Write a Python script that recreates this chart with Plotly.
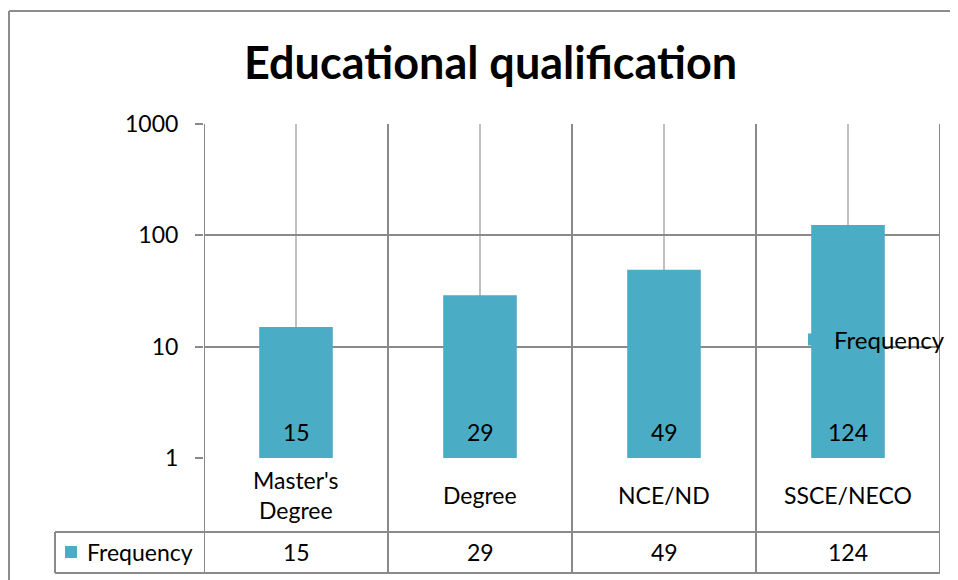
import plotly.graph_objects as go

categories = ["Master's Degree", "Degree", "NCE/ND", "SSCE/NECO"]
category_labels = ["Master's<br>Degree", "Degree", "NCE/ND", "SSCE/NECO"]
frequency = [15, 29, 49, 124]
series_name = "Frequency"
title = "Educational qualification"
y_ticks = [1, 10, 100, 1000]

BAR = "#4BACC6"
GRID = "#8a8a8a"
LIGHT = "#c0c0c0"
FONT = "Lato"
FS = 23

OFF = 8  # page body margin
W, H = 958, 580
L, T = 204 - OFF, 124 - OFF
pw, ph = 736, 334
R, B = W - L - pw, H - T - ph


def px(x):
    return (x - OFF - L) / pw


def py(y):
    return (T + ph - (y - OFF)) / ph


fig = go.Figure()
fig.add_trace(go.Bar(
    x=categories, y=frequency, name=series_name,
    marker=dict(color=BAR, line=dict(width=0)), width=0.4,
))

shapes = []
for i in range(len(categories) + 1):
    xv = i - 0.5
    shapes.append(dict(type="line", xref="x", yref="paper", x0=xv, x1=xv,
                       y0=py(573), y1=1, line=dict(color=GRID, width=2), layer="above"))
for yy in (532, 573):
    shapes.append(dict(type="line", xref="paper", yref="paper", x0=px(55), x1=1,
                       y0=py(yy), y1=py(yy), line=dict(color=GRID, width=2)))
shapes.append(dict(type="line", xref="paper", yref="paper", x0=px(55), x1=px(55),
                   y0=py(532), y1=py(573), line=dict(color=GRID, width=2)))
shapes.append(dict(type="rect", xref="paper", yref="paper", x0=px(65), x1=px(77),
                   y0=py(558), y1=py(546), fillcolor=BAR, line=dict(width=0)))
shapes.append(dict(type="line", xref="paper", yref="paper", x0=px(9), x1=px(970),
                   y0=py(11), y1=py(11), line=dict(color="#8c8c8c", width=2)))
shapes.append(dict(type="line", xref="paper", yref="paper", x0=px(9), x1=px(9),
                   y0=py(11), y1=py(590), line=dict(color="#8c8c8c", width=2)))


def ann(x, xref, y, text, size=FS, xanchor="center"):
    return dict(x=x, xref=xref, y=y, yref="paper", text=text, showarrow=False,
                xanchor=xanchor, yanchor="middle",
                font=dict(size=size, color="black", family=FONT))


annotations = []
for cat, lab, v in zip(categories, category_labels, frequency):
    annotations.append(ann(cat, "x", py(432), str(v)))
    annotations.append(ann(cat, "x", py(495), lab))
    annotations.append(ann(cat, "x", py(552), str(v)))
annotations.append(ann(px(85), "paper", py(552), series_name, xanchor="left"))
annotations.append(ann(px(490), "paper", py(62), "<b>" + title + "</b>", size=45))

fig.update_layout(
    width=W, height=H,
    margin=dict(l=L, r=R, t=T, b=B),
    paper_bgcolor="white", plot_bgcolor="white",
    font=dict(family=FONT, size=FS, color="black"),
    showlegend=True,
    legend=dict(x=px(794), y=py(340), xanchor="left", yanchor="middle",
                bgcolor="rgba(0,0,0,0)", font=dict(size=24, family=FONT),
                itemwidth=30),
    xaxis=dict(showgrid=True, gridcolor=LIGHT, gridwidth=1.5, showticklabels=False,
               ticks="", showline=False, zeroline=False, range=[-0.5, 3.5]),
    yaxis=dict(type="log", range=[0, 3], tickvals=y_ticks, ticktext=[str(t) for t in y_ticks],
               showgrid=True, gridcolor=GRID, gridwidth=2, ticks="outside", ticklen=8,
               tickcolor=GRID, tickwidth=2, showline=False, zeroline=False,
               tickfont=dict(size=FS, family=FONT), ticklabelstandoff=12),
    shapes=shapes, annotations=annotations,
)

fig.write_html("out.html")
